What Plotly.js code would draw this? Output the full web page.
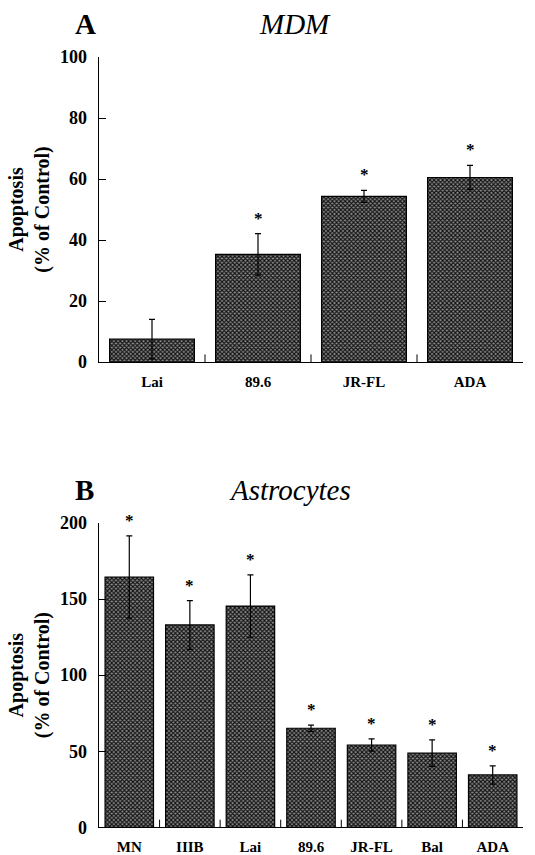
<!DOCTYPE html>
<html>
<head>
<meta charset="utf-8">
<script src="https://cdn.plot.ly/plotly-3.0.1.min.js"></script>
<style>html,body{margin:0;padding:0;background:#fff;}#chart{width:535px;height:855px;}</style>
</head>
<body>
<div id="chart"></div>
<script>
// Panel A: MDM
const catsA = ["Lai", "89.6", "JR-FL", "ADA"];
const valsA = [7.5, 35.3, 54.3, 60.5];
const errA = [6.5, 6.8, 2.0, 4.0];
const starA = [false, true, true, true];
const ticksA = [0, 20, 40, 60, 80, 100];

// Panel B: Astrocytes
const catsB = ["MN", "IIIB", "Lai", "89.6", "JR-FL", "Bal", "ADA"];
const valsB = [164.5, 133, 145.4, 65.1, 54.1, 48.7, 34.4];
const errB = [27, 16, 20.5, 2, 4, 8.7, 6];
const starB = [true, true, true, true, true, true, true];
const ticksB = [0, 50, 100, 150, 200];

const serif = "Liberation Serif";
const W = 535, H = 855;

function barTrace(cats, vals, errs, xa, ya) {
  return {
    type: "bar", x: cats.map((c, i) => i), y: vals, xaxis: xa, yaxis: ya, width: 0.8,
    marker: {
      color: "#8c8c8c",
      line: {color: "#000", width: 1.2},
      pattern: {shape: "x", fgcolor: "#111", bgcolor: "#8c8c8c", size: 3, solidity: 0.6}
    },
    error_y: {type: "data", array: errs, symmetric: true, visible: true, color: "#000", thickness: 1.2, width: 3},
    showlegend: false, hoverinfo: "skip"
  };
}

const traces = [barTrace(catsA, valsA, errA, "x", "y"), barTrace(catsB, valsB, errB, "x2", "y2")];

const starFont = {family: serif, size: 17, color: "#000"};
const annotations = [];
catsA.forEach((c, i) => { if (starA[i]) annotations.push({xref: "x", yref: "y", x: i, y: valsA[i] + errA[i], text: "<b>*</b>", showarrow: false, yanchor: "bottom", yshift: 4, font: starFont}); });
catsB.forEach((c, i) => { if (starB[i]) annotations.push({xref: "x2", yref: "y2", x: i, y: valsB[i] + errB[i], text: "<b>*</b>", showarrow: false, yanchor: "bottom", yshift: 4, font: starFont}); });

// Panel labels and titles
const big = {family: serif, size: 29, color: "#000"};
annotations.push({xref: "paper", yref: "paper", x: 73 / W, y: 1 - 24 / H, yanchor: "middle", text: "<b>A</b>", showarrow: false, font: big});
annotations.push({xref: "paper", yref: "paper", x: 295 / W, y: 1 - 24 / H, yanchor: "middle", text: "<i>MDM</i>", showarrow: false, font: big});
annotations.push({xref: "paper", yref: "paper", x: 73 / W, y: 1 - 490 / H, yanchor: "middle", text: "<b>B</b>", showarrow: false, font: big});
annotations.push({xref: "paper", yref: "paper", x: 290 / W, y: 1 - 490 / H, yanchor: "middle", text: "<i>Astrocytes</i>", showarrow: false, font: big});

function xAxis(cats, anchor) {
  return {
    domain: [99 / W, 523 / W], anchor: anchor, range: [-0.5, cats.length - 0.5],
    tickmode: "array", tickvals: cats.map((c, i) => i), ticktext: cats.map(c => "<b>" + c + "</b>"),
    showline: true, linecolor: "#000", linewidth: 1, ticks: "", showgrid: false, zeroline: false,
    tickfont: {family: serif, size: 15, color: "#000"}, ticklabelstandoff: 6
  };
}
function yAxis(dom, anchor, range, tv) {
  return {
    domain: dom, anchor: anchor, range: range, tickmode: "array", tickvals: tv, ticktext: tv.map(v => "<b>" + v + "</b>"),
    showline: true, linecolor: "#000", linewidth: 1.5, ticks: "inside", ticklen: 7, tickcolor: "#000", tickwidth: 1,
    showgrid: false, zeroline: false, tickfont: {family: serif, size: 18, color: "#000"},
    ticklabelstandoff: 7,
    title: {text: "<b>Apoptosis</b><br><b>(% of Control)</b>", font: {family: serif, size: 20, color: "#000"}, standoff: 5}
  };
}

const layout = {
  width: W, height: H, margin: {l: 0, r: 0, t: 0, b: 0},
  paper_bgcolor: "#fff", plot_bgcolor: "#fff", bargap: 0.2,
  xaxis: xAxis(catsA, "y"),
  yaxis: yAxis([1 - 362 / H, 1 - 57 / H], "x", [0, 100], ticksA),
  xaxis2: xAxis(catsB, "y2"),
  yaxis2: yAxis([1 - 827.3 / H, 1 - 523 / H], "x2", [0, 200], ticksB),
  annotations: annotations,
  shapes: []
};

// between-category small upward ticks
catsA.slice(1).forEach((c, i) => layout.shapes.push({type: "line", xref: "x", yref: "y", x0: i + 0.5, x1: i + 0.5, y0: 0, y1: 2.5, line: {color: "#000", width: 1}}));
catsB.slice(1).forEach((c, i) => layout.shapes.push({type: "line", xref: "x2", yref: "y2", x0: i + 0.5, x1: i + 0.5, y0: 0, y1: 5, line: {color: "#000", width: 1}}));

Plotly.newPlot("chart", traces, layout, {staticPlot: true});
</script>
</body>
</html>
